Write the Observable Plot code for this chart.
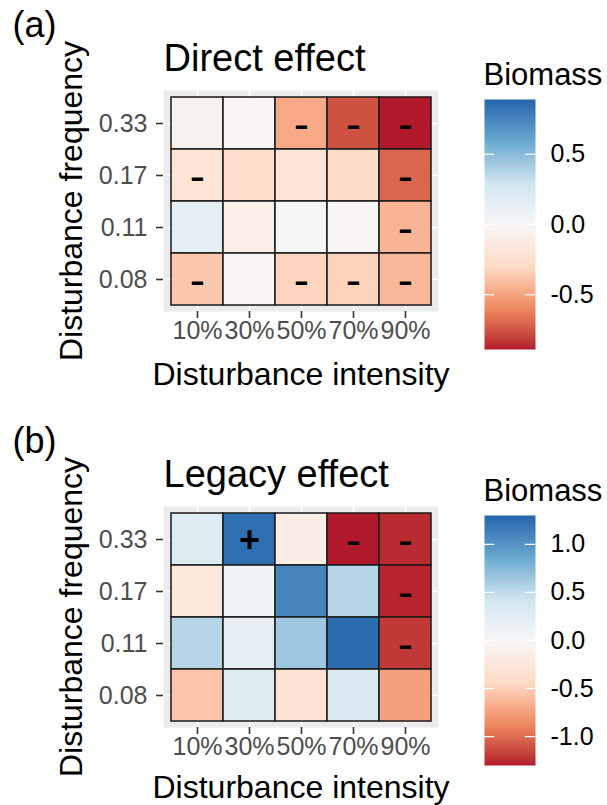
<!DOCTYPE html>
<html>
<head>
<meta charset="utf-8">
<script src="https://cdn.jsdelivr.net/npm/d3@7"></script>
<script src="https://cdn.jsdelivr.net/npm/@observablehq/plot@0.6"></script>
<style>
  html, body { margin: 0; padding: 0; background: white; }
  #fig { position: relative; width: 607px; height: 805px; overflow: hidden; background: white; }
  .panel { position: absolute; left: 0; width: 607px; }
  .panel svg { position: absolute; top: 0; }
</style>
</head>
<body>
<div id="fig"></div>
<script>
// ---------- data ----------
const intensities = ["10%", "30%", "50%", "70%", "90%"];
const frequencies = ["0.33", "0.17", "0.11", "0.08"]; // top to bottom

const directValues = [
  [-0.05, -0.02, -0.48, -0.76, -0.89],
  [-0.20, -0.26, -0.19, -0.29, -0.70],
  [ 0.15, -0.10,  0.01, -0.02, -0.44],
  [-0.37, -0.02, -0.32, -0.33, -0.43]
];
const directSig = [
  ["", "", "-", "-", "-"],
  ["-", "", "", "", "-"],
  ["", "", "", "", "-"],
  ["-", "", "-", "-", "-"]
];
const legacyValues = [
  [ 0.30,  1.24, -0.15, -1.30, -1.25],
  [-0.22,  0.10,  1.10,  0.55, -1.27],
  [ 0.55,  0.22,  0.65,  1.25, -1.20],
  [-0.55,  0.30, -0.31,  0.32, -0.75]
];
const legacySig = [
  ["", "+", "", "-", "-"],
  ["", "", "", "", "-"],
  ["", "", "", "", "-"],
  ["", "", "", "", ""]
];
const directLimit = 0.89;
const legacyLimit = 1.30;
const directTicks = [-0.5, 0, 0.5];
const legacyTicks = [-1, -0.5, 0, 0.5, 1];
const rdbu = ["#b2182b", "#ef8a62", "#fddbc7", "#f7f7f7", "#d1e5f0", "#67a9cf", "#2166ac"];

// ---------- helpers ----------
const FONT = "'Liberation Sans', Arial, Helvetica, sans-serif";
function tidy(values, sig) {
  return frequencies.flatMap((f, i) => intensities.map((x, j) => ({
    frequency: f, intensity: x, value: values[i][j], sig: sig[i][j]
  })));
}
function colorScale(m) {
  const stops = rdbu.map((_, i) => -m + (2 * m * i) / (rdbu.length - 1));
  return {type: "linear", domain: stops, range: rdbu, interpolate: "lab"};
}

function panel({top, height, tag, title, values, sig, limit, ticks, xTitleDy}) {
  const div = document.createElement("div");
  div.className = "panel";
  div.style.top = top + "px";
  div.style.height = height + "px";
  const data = tidy(values, sig);
  const frameTop = 90, frameBottom = 311;

  const heat = Plot.plot({
    width: 470,
    height,
    marginLeft: 163,
    marginRight: 32,
    marginTop: frameTop,
    marginBottom: height - frameBottom,
    style: {fontFamily: FONT, background: "transparent", overflow: "visible"},
    x: {domain: intensities, paddingInner: 0, paddingOuter: 0.1, label: null},
    y: {domain: frequencies, paddingInner: 0, paddingOuter: 0.1, label: null},
    color: colorScale(limit),
    marks: [
      Plot.frame({fill: "#EBEBEB", stroke: "none"}),
      Plot.gridX({stroke: "white", strokeOpacity: 1, strokeWidth: 1.5}),
      Plot.gridY({stroke: "white", strokeOpacity: 1, strokeWidth: 1.5}),
      Plot.cell(data, {x: "intensity", y: "frequency", fill: "value", stroke: "#1a1a1a", strokeWidth: 1.5, inset: 0}),
      Plot.text(data.filter(d => d.sig === "-"), {x: "intensity", y: "frequency", text: "sig", fontSize: 46, fill: "black", dy: 2}),
      Plot.text(data.filter(d => d.sig === "+"), {x: "intensity", y: "frequency", text: "sig", fontSize: 36, fontWeight: "bold", fill: "black", dy: 1}),
      Plot.axisX({anchor: "bottom", label: null, tickSize: 7, tickPadding: 3, fontSize: 25, fill: "#4D4D4D", stroke: "#333333", strokeWidth: 1.6}),
      Plot.axisY({anchor: "left", label: null, tickSize: 7, tickPadding: 9, fontSize: 25, fill: "#4D4D4D", stroke: "#333333", strokeWidth: 1.6}),
      Plot.text([title], {frameAnchor: "top-left", textAnchor: "start", lineAnchor: "bottom", dy: -20, fontSize: 38, fill: "black"}),
      Plot.text([tag], {frameAnchor: "top-left", textAnchor: "start", lineAnchor: "bottom", dx: -151, dy: -54, fontSize: 36, fill: "black"}),
      Plot.text(["Disturbance intensity"], {frameAnchor: "bottom", textAnchor: "middle", lineAnchor: "bottom", dy: xTitleDy, fontSize: 32, fill: "black"}),
      Plot.text(["Disturbance frequency"], {frameAnchor: "left", textAnchor: "middle", lineAnchor: "bottom", rotate: -90, dx: -82, fontSize: 32, fill: "black"})
    ]
  });
  heat.style.left = "0px";
  div.appendChild(heat);

  const barTop = 99, barBottom = 349;
  const legend = Plot.plot({
    width: 137,
    height,
    marginLeft: 14,
    marginRight: 72,
    marginTop: barTop,
    marginBottom: height - barBottom,
    style: {fontFamily: FONT, background: "transparent", overflow: "visible"},
    x: {domain: [0, 1], axis: null},
    y: {domain: [-limit, limit], label: null},
    color: colorScale(limit),
    marks: [
      Plot.raster({x1: 0, x2: 1, y1: -limit, y2: limit, fill: (x, y) => y, pixelSize: 1}),
      Plot.ruleY(ticks, {y: d => d, x1: 0, x2: 0.2, stroke: "white", strokeWidth: 1.2}),
      Plot.ruleY(ticks, {y: d => d, x1: 0.8, x2: 1, stroke: "white", strokeWidth: 1.2}),
      Plot.axisY(ticks, {anchor: "right", label: null, tickSize: 0, tickPadding: 15, fontSize: 25, fill: "black", tickFormat: d => d.toFixed(1)}),
      Plot.text(["Biomass"], {frameAnchor: "top-left", textAnchor: "start", lineAnchor: "bottom", dx: -1, dy: -15, fontSize: 31, fill: "black"})
    ]
  });
  legend.style.left = "470px";
  div.appendChild(legend);
  return div;
}

const fig = document.getElementById("fig");
fig.appendChild(panel({top: 0, height: 416, tag: "(a)", title: "Direct effect",
  values: directValues, sig: directSig, limit: directLimit, ticks: directTicks, xTitleDy: 73}));
fig.appendChild(panel({top: 416, height: 389, tag: "(b)", title: "Legacy effect",
  values: legacyValues, sig: legacySig, limit: legacyLimit, ticks: legacyTicks, xTitleDy: 70}));
</script>
</body>
</html>
